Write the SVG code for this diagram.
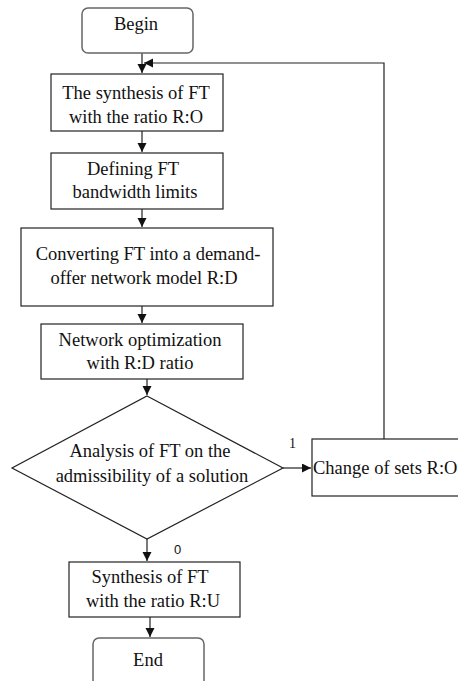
<svg xmlns="http://www.w3.org/2000/svg" width="458" height="681" viewBox="0 0 458 681">
<style>
.box{fill:#fff;stroke:#222;stroke-width:1.2}
.rnd{fill:#fff;stroke:#666;stroke-width:1.5}
.t{font-family:"Liberation Serif","Times New Roman",serif;font-size:18.5px;fill:#111;text-anchor:middle}
.c{fill:none;stroke:#222;stroke-width:1.2}
.lbl{font-family:"Liberation Serif","Times New Roman",serif;font-size:14px;fill:#111}
.lbs{font-family:"Liberation Sans",Arial,sans-serif;font-size:13px;fill:#111}
</style>
<defs>
<marker id="ah" markerWidth="10" markerHeight="10" refX="9" refY="4.5" orient="auto" markerUnits="userSpaceOnUse">
<path d="M0,0 L9,4.5 L0,9 z" fill="#111"/>
</marker>
</defs>
<rect width="458" height="681" fill="#fff"/>
<g id="connectors">
<line class="c" x1="142" y1="53" x2="142" y2="73" marker-end="url(#ah)"/>
<polyline class="c" points="384,439 384,63 144,63" marker-end="url(#ah)"/>
<line class="c" x1="142" y1="131" x2="142" y2="152" marker-end="url(#ah)"/>
<line class="c" x1="142" y1="209" x2="142" y2="227" marker-end="url(#ah)"/>
<line class="c" x1="142" y1="306" x2="142" y2="323" marker-end="url(#ah)"/>
<line class="c" x1="147" y1="379" x2="147" y2="395" marker-end="url(#ah)"/>
<line class="c" x1="283" y1="468" x2="311" y2="468" marker-end="url(#ah)"/>
<line class="c" x1="147" y1="539" x2="147" y2="561" marker-end="url(#ah)"/>
<line class="c" x1="150" y1="617" x2="150" y2="637" marker-end="url(#ah)"/>
<text class="lbl" x="289" y="448">1</text>
<text class="lbs" x="174" y="554">0</text>
</g>
<g id="begin">
<rect class="rnd" x="82" y="8" width="111" height="45" rx="6"/>
<text class="t" x="136" y="30">Begin</text>
</g>
<g id="synthesis-ro">
<rect class="box" x="51" y="74" width="172" height="57"/>
<text class="t" x="136" y="99">The synthesis of FT</text>
<text class="t" x="136" y="123">with the ratio R:O</text>
</g>
<g id="bandwidth">
<rect class="box" x="51" y="153" width="172" height="56"/>
<text class="t" x="133" y="175">Defining FT</text>
<text class="t" x="135" y="198">bandwidth limits</text>
</g>
<g id="converting">
<rect class="box" x="21" y="228" width="252" height="78"/>
<text class="t" x="148" y="260">Converting FT into a demand-</text>
<text class="t" x="144" y="284">offer network model R:D</text>
</g>
<g id="optimization">
<rect class="box" x="41" y="324" width="202" height="55"/>
<text class="t" x="140" y="346">Network optimization</text>
<text class="t" x="140" y="369">with R:D ratio</text>
</g>
<g id="analysis">
<polygon class="box" points="147,396 283,468 147,539 12,468"/>
<text class="t" x="150" y="457">Analysis of FT on the</text>
<text class="t" x="152" y="482">admissibility of a solution</text>
</g>
<g id="change">
<rect class="box" x="312" y="439" width="160" height="57"/>
<text class="t" x="313" y="474" style="text-anchor:start">Change of sets R:O</text>
</g>
<g id="synthesis-ru">
<rect class="box" x="69" y="562" width="171" height="55"/>
<text class="t" x="150" y="583">Synthesis of FT</text>
<text class="t" x="153" y="607">with the ratio R:U</text>
</g>
<g id="end">
<rect class="rnd" x="93" y="638" width="111" height="50" rx="6"/>
<text class="t" x="148" y="666">End</text>
</g>
</svg>
